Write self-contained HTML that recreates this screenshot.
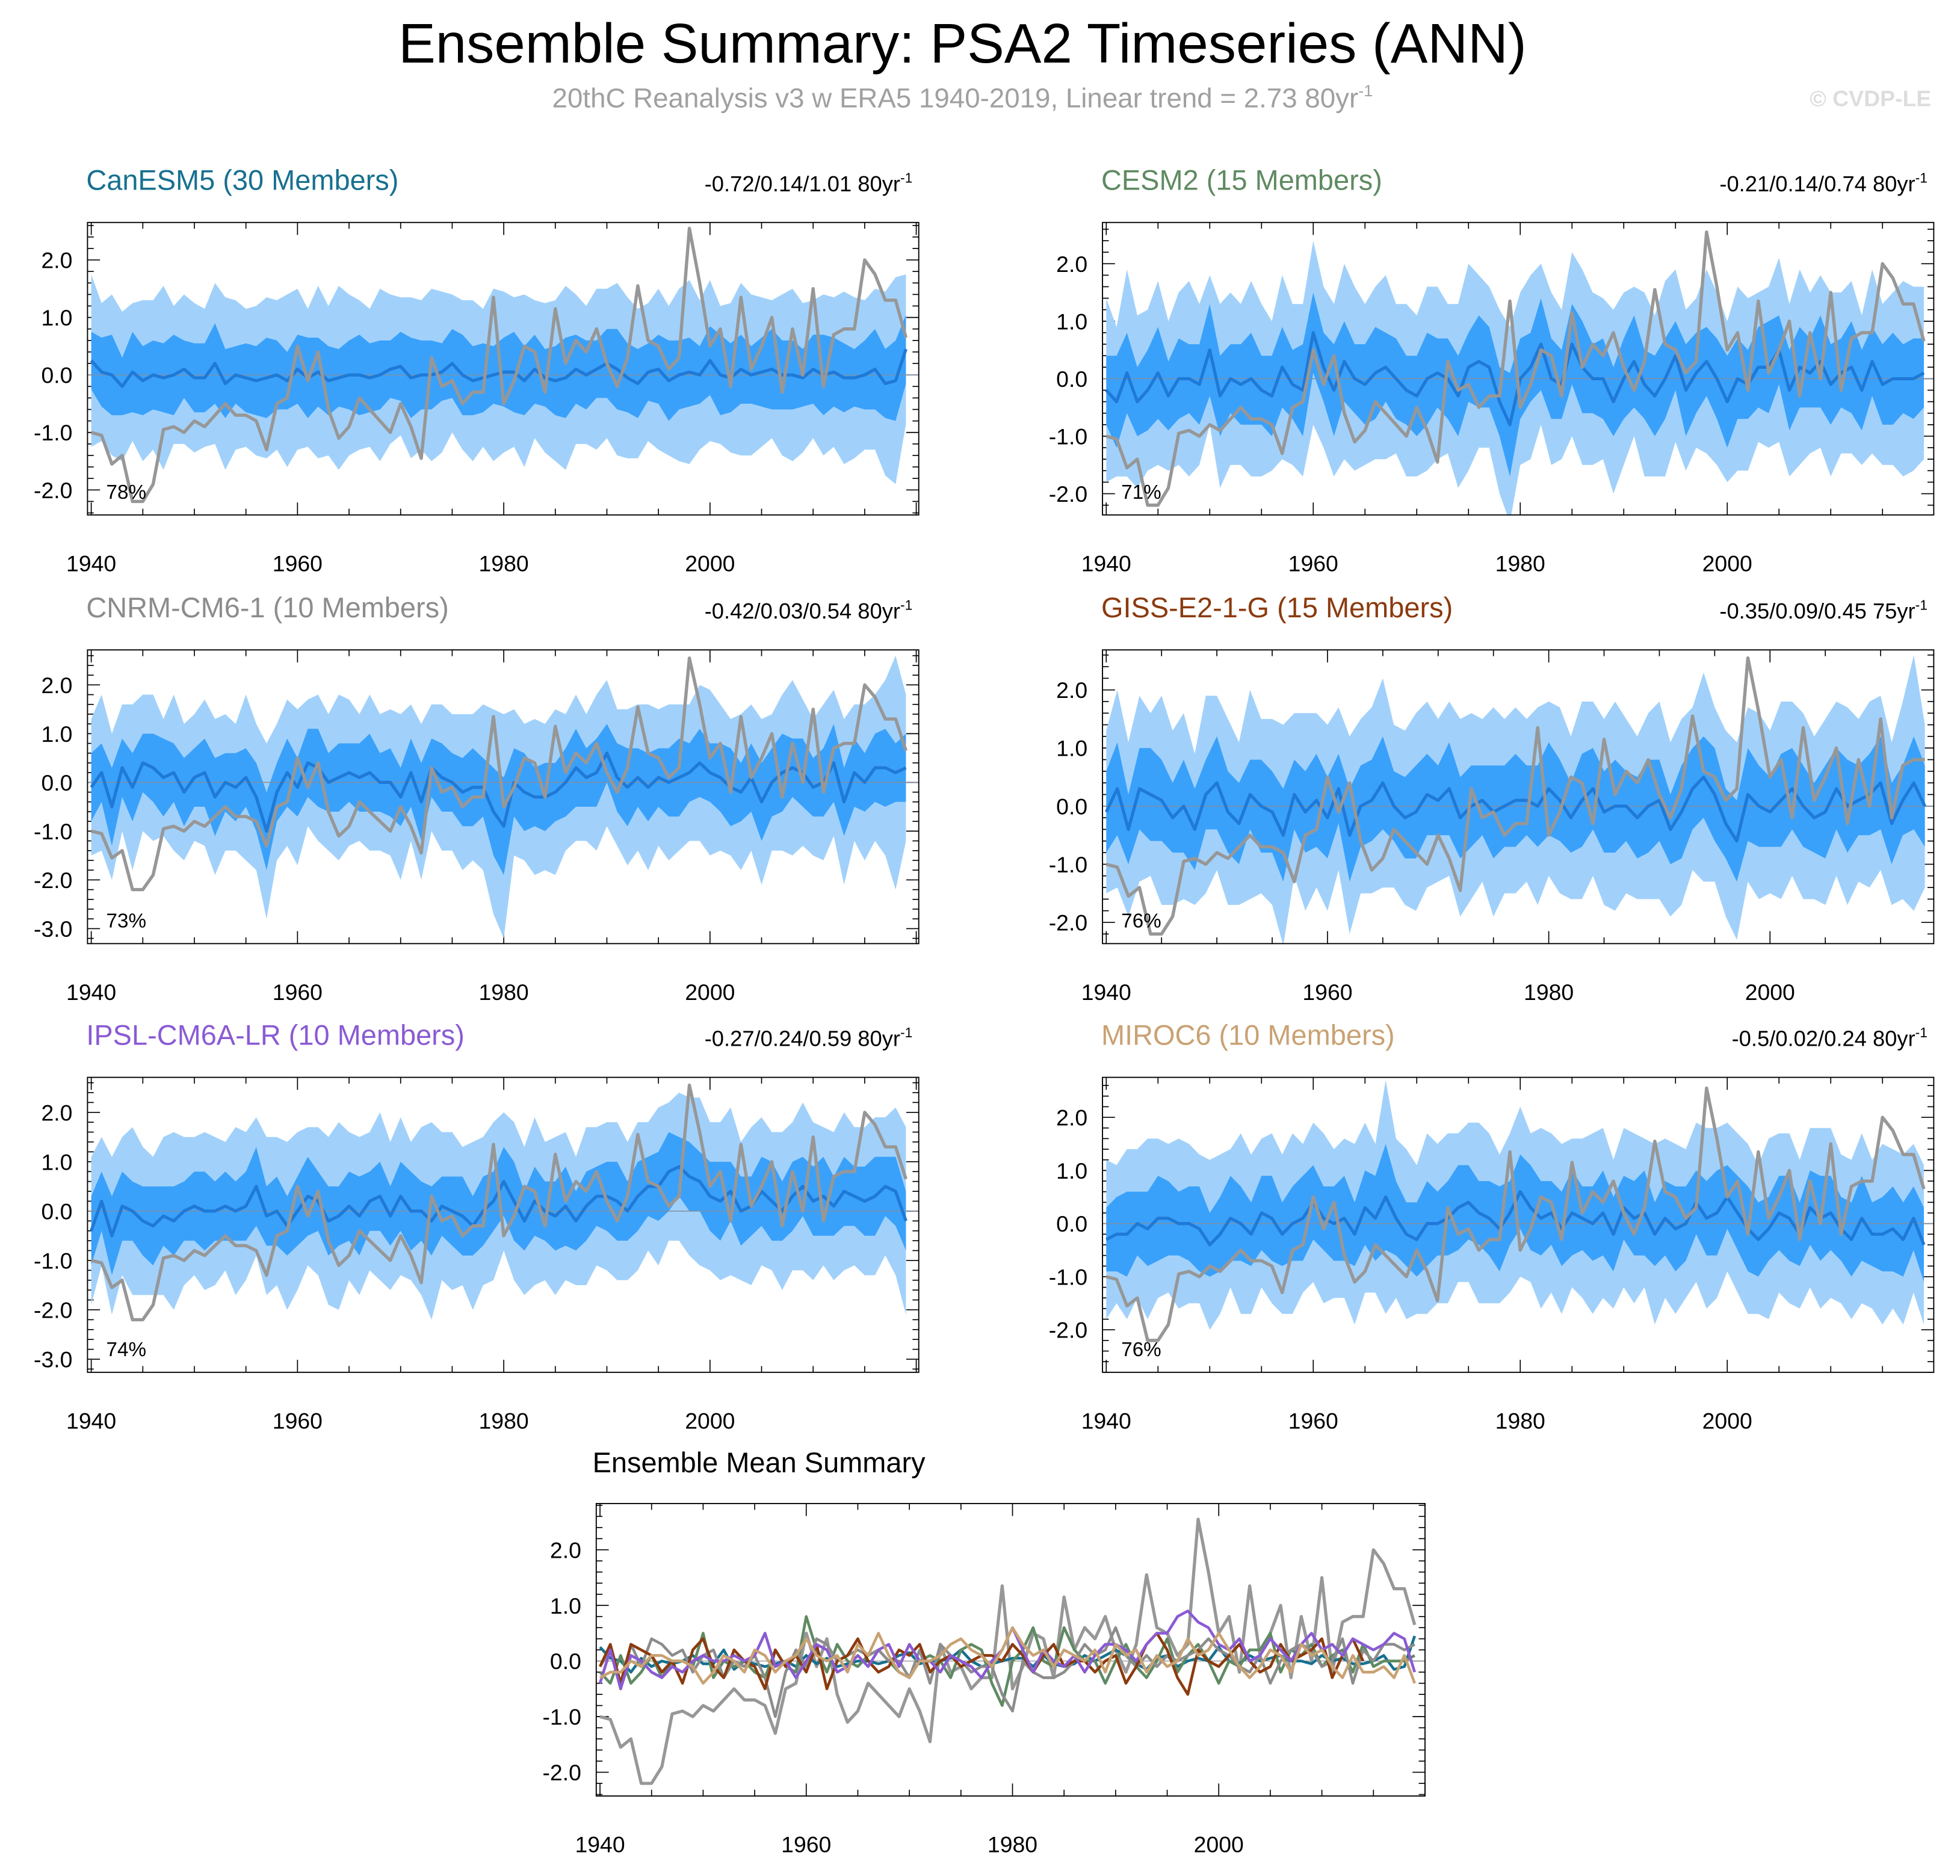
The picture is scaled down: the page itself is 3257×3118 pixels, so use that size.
<!DOCTYPE html>
<html><head><meta charset="utf-8"><style>
html,body{margin:0;padding:0;background:#fff;}
svg text{font-family:"Liberation Sans",sans-serif;}
</style></head><body>
<svg id="fig" xmlns="http://www.w3.org/2000/svg" width="3257" height="3113" viewBox="0 0 1568 1498.6" preserveAspectRatio="none">
<rect x="0" y="0" width="1568" height="1500" fill="#fff"/>
<text x="770" y="50" font-size="44.5" text-anchor="middle" fill="#000">Ensemble Summary: PSA2 Timeseries (ANN)</text>
<text x="770" y="86" font-size="22" text-anchor="middle" fill="#a0a0a0">20thC Reanalysis v3 w ERA5 1940-2019, Linear trend = 2.73 80yr<tspan font-size="13" dy="-9">-1</tspan></text>
<text x="1545" y="85" font-size="18" font-weight="bold" text-anchor="end" fill="#dddddd">© CVDP-LE</text>
</svg>
<script>
const years = Array.from({length:80},(_, i)=>1940+i);
const obs = [-1.0,-1.05,-1.55,-1.4,-2.2,-2.2,-1.9,-0.95,-0.9,-1.0,
-0.8,-0.9,-0.7,-0.5,-0.7,-0.7,-0.8,-1.3,-0.5,-0.4,
0.5,-0.1,0.4,-0.6,-1.1,-0.9,-0.4,-0.6,-0.8,-1.0,
-0.5,-0.9,-1.45,0.3,-0.2,-0.1,-0.5,-0.3,-0.3,1.35,
-0.5,-0.1,0.5,0.4,-0.3,1.15,0.2,0.6,0.4,0.8,
0.2,-0.2,0.3,1.55,0.6,0.5,0.1,0.3,2.55,1.6,
0.5,0.8,-0.2,1.35,0.1,0.5,1.0,-0.3,0.8,0.0,
1.5,-0.2,0.7,0.8,0.8,2.0,1.75,1.3,1.3,0.65];
const meanCanESM5 = [0.25,0.05,0.00,-0.20,0.05,-0.10,0.00,-0.05,0.00,0.10,
-0.05,-0.05,0.20,-0.15,0.00,-0.05,-0.10,-0.05,0.00,-0.10,
0.10,-0.05,0.05,-0.10,-0.05,0.00,0.00,-0.05,0.00,0.10,
0.15,-0.05,0.00,0.00,0.05,0.20,0.00,-0.10,-0.05,0.00,
0.05,0.05,-0.10,0.10,-0.05,-0.10,-0.05,0.10,0.00,0.10,
0.20,0.10,-0.05,-0.15,0.05,0.10,-0.10,0.00,0.05,0.00,
0.25,0.00,-0.05,0.10,0.00,0.05,0.10,0.00,0.00,-0.05,
0.10,0.00,0.05,-0.05,-0.05,0.00,0.10,-0.15,-0.10,0.45];
const innerCanESM5 = [0.5,0.6,0.7,0.5,0.7,0.6,0.6,0.6,0.7,0.5,
0.6,0.6,0.7,0.6,0.5,0.6,0.6,0.7,0.6,0.5,
0.6,0.7,0.6,0.6,0.5,0.6,0.7,0.6,0.6,0.5,
0.6,0.7,0.6,0.6,0.5,0.6,0.7,0.6,0.6,0.5,
0.6,0.7,0.6,0.6,0.5,0.6,0.7,0.6,0.6,0.5,
0.6,0.7,0.6,0.6,0.5,0.6,0.7,0.6,0.6,0.5,
0.6,0.7,0.6,0.6,0.5,0.6,0.7,0.6,0.6,0.5,
0.6,0.7,0.6,0.6,0.5,0.6,0.7,0.6,0.7,0.6];
const outerCanESM5 = [1.5,1.2,1.4,1.3,1.2,1.4,1.3,1.6,1.2,1.3,
1.3,1.2,1.4,1.5,1.3,1.2,1.3,1.4,1.3,1.5,
1.4,1.2,1.5,1.3,1.6,1.4,1.3,1.2,1.5,1.3,
1.2,1.4,1.3,1.5,1.4,1.2,1.3,1.4,1.2,1.5,
1.4,1.3,1.5,1.2,1.3,1.4,1.6,1.3,1.2,1.4,
1.3,1.5,1.4,1.3,1.2,1.4,1.3,1.5,1.6,1.3,
1.4,1.2,1.3,1.5,1.4,1.3,1.2,1.4,1.5,1.3,
1.2,1.4,1.3,1.5,1.4,1.3,1.4,1.6,1.8,1.3];
const meanCESM2 = [-0.2,-0.4,0.1,-0.4,-0.2,0.1,-0.3,0.0,0.0,-0.1,
0.5,-0.3,0.0,-0.1,0.0,-0.2,-0.3,0.2,-0.1,-0.2,
0.8,0.2,-0.2,0.3,0.0,-0.1,0.1,0.2,0.0,-0.2,
-0.3,0.0,0.1,0.0,-0.3,0.2,0.3,0.2,-0.4,-0.8,
0.0,0.2,0.6,0.0,-0.1,0.6,0.2,0.0,0.0,-0.4,
0.0,0.3,-0.1,-0.3,0.0,0.4,-0.2,0.1,0.3,0.0,
-0.4,0.0,-0.1,0.2,0.2,0.5,-0.2,0.2,0.1,0.3,
-0.1,0.1,0.2,-0.2,0.3,-0.1,0.0,0.0,0.0,0.1];
const innerCESM2 = [0.6,0.8,0.7,0.6,0.7,0.8,0.6,0.7,0.6,0.7,
0.8,0.7,0.6,0.7,0.8,0.6,0.7,0.7,0.6,0.8,
0.7,0.6,0.8,0.7,0.6,0.7,0.8,0.6,0.7,0.6,
0.7,0.8,0.6,0.7,0.7,0.6,0.8,0.7,0.6,0.9,
0.7,0.6,0.8,0.7,0.6,0.7,0.8,0.6,0.7,0.6,
0.7,0.8,0.6,0.7,0.7,0.6,0.8,0.7,0.6,0.7,
0.8,0.7,0.6,0.7,0.8,0.6,0.7,0.7,0.6,0.8,
0.7,0.6,0.8,0.7,0.6,0.7,0.8,0.6,0.7,0.6];
const outerCESM2 = [1.6,1.3,1.8,1.5,1.4,1.6,1.3,1.5,1.7,1.4,
1.3,1.6,1.5,1.4,1.7,1.5,1.3,1.6,1.4,1.5,
1.6,1.4,1.5,1.7,1.6,1.4,1.5,1.6,1.3,1.5,
1.4,1.6,1.5,1.3,1.6,1.8,1.5,1.4,1.6,1.7,
1.5,1.6,1.4,1.5,1.3,1.6,1.7,1.5,1.4,1.6,
1.5,1.3,1.6,1.4,1.7,1.5,1.4,1.3,1.6,1.5,
1.4,1.6,1.5,1.3,1.4,1.6,1.5,1.7,1.4,1.5,
1.6,1.4,1.5,1.3,1.6,1.4,1.5,1.7,1.6,1.5];
const meanCNRM = [-0.1,0.2,-0.5,0.3,-0.1,0.4,0.3,0.1,0.2,-0.2,
0.1,0.2,-0.3,0.0,-0.1,0.1,-0.3,-1.0,-0.2,0.2,
-0.1,0.4,0.3,0.0,0.1,0.2,0.1,0.2,0.0,0.0,
-0.3,0.2,-0.4,0.3,0.1,0.0,-0.2,-0.1,-0.1,-0.6,
-0.9,0.0,-0.2,-0.3,-0.3,-0.2,0.0,0.3,0.1,0.2,
0.6,0.1,-0.1,0.1,-0.1,0.1,0.0,0.1,0.2,0.4,
0.2,0.1,-0.1,-0.2,0.1,-0.4,0.0,0.2,0.3,0.2,
-0.1,0.0,0.4,-0.4,0.2,0.0,0.3,0.3,0.2,0.3];
const innerCNRM = [0.7,0.6,0.8,0.6,0.7,0.6,0.7,0.8,0.6,0.7,
0.6,0.7,0.8,0.6,0.7,0.6,0.7,0.8,0.6,0.7,
0.6,0.7,0.8,0.6,0.7,0.6,0.7,0.8,0.6,0.7,
0.6,0.7,0.8,0.6,0.7,0.6,0.7,0.8,0.6,0.9,
1.0,0.7,0.8,0.6,0.7,0.6,0.7,0.8,0.6,0.7,
0.6,0.7,0.8,0.6,0.7,0.6,0.7,0.8,0.6,0.7,
0.6,0.7,0.8,0.6,0.7,0.8,0.7,0.8,0.6,0.7,
0.6,0.7,0.8,0.7,0.7,0.6,0.7,0.8,0.6,0.7];
const outerCNRM = [1.4,1.6,1.5,1.3,1.7,1.4,1.5,1.2,1.6,1.4,
1.3,1.5,1.6,1.4,1.3,1.7,1.5,1.8,1.4,1.5,
1.6,1.3,1.5,1.4,1.7,1.5,1.3,1.6,1.4,1.5,
1.7,1.4,1.6,1.3,1.5,1.4,1.6,1.5,1.7,2.1,
2.3,1.5,1.4,1.6,1.5,1.7,1.4,1.5,1.3,1.6,
1.5,1.4,1.6,1.5,1.7,1.4,1.6,1.5,1.4,1.6,
1.7,1.5,1.4,1.6,1.5,1.7,1.4,1.6,1.8,1.5,
1.4,1.6,1.5,1.7,1.4,1.6,1.5,1.8,2.4,1.5];
const meanGISS = [-0.1,0.3,-0.4,0.3,0.2,0.1,-0.2,0.0,-0.4,0.2,
0.4,-0.1,-0.3,0.2,0.0,-0.1,-0.5,0.2,-0.1,0.1,
-0.2,0.3,-0.5,0.0,0.1,0.4,0.0,-0.2,-0.1,0.2,
0.1,0.3,-0.2,0.0,0.1,-0.1,0.0,0.1,0.1,0.0,
0.3,0.1,-0.2,0.1,0.3,-0.1,0.0,0.0,-0.2,0.0,
0.1,-0.4,-0.1,0.3,0.5,0.2,-0.3,-0.6,0.2,0.0,
-0.1,0.1,0.3,0.0,-0.2,-0.1,0.3,0.0,0.1,0.2,
0.4,-0.3,0.1,0.4,0.0];
const innerGISS = [0.7,0.8,0.6,0.7,0.8,0.7,0.6,0.8,0.7,0.6,
0.8,0.7,0.7,0.6,0.8,0.7,0.8,0.6,0.7,0.8,
0.7,0.6,0.8,0.7,0.7,0.8,0.6,0.7,0.8,0.7,
0.6,0.8,0.7,0.7,0.6,0.8,0.7,0.8,0.6,0.7,
0.8,0.7,0.6,0.8,0.7,0.7,0.8,0.6,0.7,0.8,
0.7,0.6,0.8,0.7,0.7,0.8,0.6,0.7,0.8,0.7,
0.6,0.8,0.7,0.7,0.6,0.8,0.7,0.8,0.6,0.7,
0.8,0.7,0.6,0.8,0.7];
const outerGISS = [1.4,1.7,1.5,1.6,1.4,1.8,1.5,1.6,1.3,1.7,
1.5,1.6,1.4,1.8,1.5,1.6,1.9,1.4,1.7,1.5,
1.6,1.4,1.7,1.5,1.6,1.8,1.4,1.5,1.7,1.6,
1.4,1.5,1.7,1.6,1.4,1.8,1.5,1.6,1.4,1.7,
1.5,1.6,1.4,1.7,1.5,1.6,1.8,1.5,1.4,1.6,
1.7,1.5,1.6,1.4,1.8,1.5,1.6,1.7,1.5,1.6,
1.4,1.7,1.5,1.6,1.4,1.6,1.5,1.7,1.4,1.6,
1.5,1.4,1.7,2.2,1.4];
const meanIPSL = [-0.4,0.2,-0.5,0.1,0.0,-0.2,-0.3,-0.1,-0.2,0.0,
0.1,0.0,0.0,0.1,0.0,0.1,0.5,-0.1,0.0,-0.3,
0.0,0.3,0.2,-0.2,-0.1,0.1,-0.1,0.2,0.3,-0.1,
0.3,0.0,0.0,-0.2,0.1,0.0,-0.1,-0.3,0.0,0.2,
0.6,0.2,-0.2,0.2,0.0,-0.1,0.1,-0.2,0.1,0.3,
0.3,0.2,0.0,0.3,0.5,0.5,0.8,0.9,0.7,0.6,
0.3,0.2,0.4,0.0,0.1,0.4,0.2,0.0,0.3,0.5,
0.2,0.3,0.1,0.4,0.3,0.2,0.3,0.5,0.4,-0.2];
const innerIPSL = [0.7,0.6,0.8,0.7,0.6,0.7,0.8,0.6,0.7,0.6,
0.7,0.8,0.6,0.7,0.6,0.7,0.8,0.6,0.7,0.6,
0.7,0.8,0.6,0.7,0.6,0.7,0.8,0.6,0.7,0.6,
0.7,0.8,0.6,0.7,0.6,0.7,0.8,0.6,0.7,0.6,
0.7,0.8,0.6,0.7,0.6,0.7,0.8,0.6,0.7,0.6,
0.7,0.8,0.6,0.7,0.6,0.7,0.8,0.6,0.7,0.6,
0.7,0.8,0.6,0.7,0.6,0.7,0.8,0.6,0.7,0.6,
0.7,0.8,0.6,0.7,0.6,0.7,0.8,0.6,0.7,0.6];
const outerIPSL = [1.5,1.3,1.6,1.4,1.7,1.5,1.4,1.6,1.8,1.5,
1.4,1.6,1.5,1.3,1.7,1.5,1.4,1.6,1.5,1.7,
1.6,1.4,1.5,1.7,1.9,1.5,1.6,1.4,1.7,1.5,
1.6,1.4,1.7,2.0,1.5,1.6,1.4,1.7,1.5,1.6,
1.4,1.6,1.5,1.7,1.4,1.6,1.5,1.3,1.6,1.4,
1.5,1.6,1.4,1.5,1.3,1.6,1.4,1.5,1.6,1.7,
1.5,1.6,1.7,1.4,1.6,1.5,1.4,1.6,1.5,1.7,
1.6,1.4,1.5,1.6,1.4,1.5,1.6,1.4,1.7,1.9];
const meanMIROC = [-0.3,-0.2,-0.2,0.0,-0.1,0.1,0.1,0.0,0.0,-0.1,
-0.4,-0.2,0.1,0.0,-0.2,0.2,0.1,-0.2,0.0,0.1,
0.4,0.1,0.0,0.1,-0.2,0.3,0.1,0.5,0.1,-0.2,
-0.3,0.0,0.0,0.1,0.3,0.4,0.2,0.1,-0.1,0.2,
0.6,0.3,0.1,0.2,-0.1,0.2,0.1,0.0,0.2,-0.2,
0.3,0.1,0.2,-0.2,0.1,-0.1,0.0,0.4,0.1,0.2,
0.5,0.2,-0.1,-0.3,-0.1,0.2,0.1,-0.2,0.3,0.1,
0.2,-0.1,-0.3,0.1,-0.2,-0.2,-0.1,-0.3,0.1,-0.4];
const innerMIROC = [0.6,0.7,0.8,0.6,0.7,0.8,0.7,0.6,0.7,0.8,
0.6,0.7,0.8,0.7,0.6,0.7,0.8,0.6,0.7,0.8,
0.7,0.6,0.7,0.8,0.6,0.7,0.8,1.0,0.7,0.6,
0.7,0.8,0.6,0.7,0.8,0.7,0.6,0.7,0.8,0.6,
0.7,0.8,0.7,0.6,0.7,0.8,0.6,0.7,0.8,0.7,
0.6,0.7,0.8,0.6,0.7,0.8,0.7,0.6,0.7,0.8,
0.6,0.7,0.8,0.7,0.6,0.7,0.8,0.6,0.7,0.8,
0.7,0.6,0.7,0.8,0.6,0.7,0.8,0.7,0.6,0.7];
const outerMIROC = [1.5,1.3,1.6,1.4,1.7,1.5,1.4,1.6,1.5,1.4,
1.6,1.5,1.3,1.7,1.5,1.4,1.6,1.5,1.7,1.4,
1.5,1.6,1.4,1.5,1.7,1.6,1.4,2.2,1.5,1.6,
1.4,1.7,1.5,1.6,1.4,1.5,1.7,1.6,1.4,1.5,
1.6,1.4,1.7,1.5,1.6,1.4,1.5,1.7,1.6,1.4,
1.5,1.6,1.4,1.7,1.5,1.6,1.4,1.5,1.7,1.6,
1.4,1.5,1.6,1.4,1.7,1.5,1.6,1.4,1.5,1.7,
1.6,1.4,1.5,1.6,1.4,1.7,1.5,1.6,1.4,1.5];
const yTicks5 = [2,1,0,-1,-2];
const yTicks6 = [2,1,0,-1,-2,-3];
const xTicks = [1940,1960,1980,2000];

const NS='http://www.w3.org/2000/svg';
const svg=document.getElementById('fig');
function mk(tag,attrs,parent){const e=document.createElementNS(NS,tag);for(const k in attrs)e.setAttribute(k,attrs[k]);(parent||svg).appendChild(e);return e;}

const panels=[
 {key:'canesm5',title:'CanESM5 (30 Members)',color:'#17708f',stats:'-0.72/0.14/1.01 80yr',bx0:70,bx1:735,by0:178,by1:412,x40:73,ppy:8.25,zero:300,ppu:46,yt:yTicks5,pct:'78%',mean:meanCanESM5,inner:innerCanESM5,outer:outerCanESM5},
 {key:'cesm2',title:'CESM2 (15 Members)',color:'#5f8a62',stats:'-0.21/0.14/0.74 80yr',bx0:882,bx1:1547,by0:178,by1:412,x40:885,ppy:8.28,zero:303,ppu:46,yt:yTicks5,pct:'71%',mean:meanCESM2,inner:innerCESM2,outer:outerCESM2},
 {key:'cnrm',title:'CNRM-CM6-1 (10 Members)',color:'#8c8c8c',stats:'-0.42/0.03/0.54 80yr',bx0:70,bx1:735,by0:520,by1:755,x40:73,ppy:8.25,zero:626,ppu:39,yt:yTicks6,pct:'73%',mean:meanCNRM,inner:innerCNRM,outer:outerCNRM},
 {key:'giss',title:'GISS-E2-1-G (15 Members)',color:'#8b3a0e',stats:'-0.35/0.09/0.45 75yr',bx0:882,bx1:1547,by0:520,by1:755,x40:885,ppy:8.85,zero:645,ppu:46.5,yt:yTicks5,pct:'76%',mean:meanGISS,inner:innerGISS,outer:outerGISS},
 {key:'ipsl',title:'IPSL-CM6A-LR (10 Members)',color:'#8a5ad4',stats:'-0.27/0.24/0.59 80yr',bx0:70,bx1:735,by0:862,by1:1098,x40:73,ppy:8.25,zero:969,ppu:39.5,yt:yTicks6,pct:'74%',mean:meanIPSL,inner:innerIPSL,outer:outerIPSL},
 {key:'miroc6',title:'MIROC6 (10 Members)',color:'#c9a273',stats:'-0.5/0.02/0.24 80yr',bx0:882,bx1:1547,by0:862,by1:1098,x40:885,ppy:8.28,zero:979,ppu:42.5,yt:yTicks5,pct:'76%',mean:meanMIROC,inner:innerMIROC,outer:outerMIROC}
];

function axes(p,g){
 const X=y=>p.x40+(y-1940)*p.ppy, Y=v=>p.zero-v*p.ppu;
 const vTop=(p.zero-p.by0)/p.ppu, vBot=(p.zero-p.by1)/p.ppu;
 for(let v=Math.ceil(vBot*5)/5; v<=vTop+1e-6; v+=0.2){
  const yy=Y(v);const major=Math.abs(v-Math.round(v))<1e-6;const L=major?10:5;
  mk('line',{x1:p.bx0,x2:p.bx0+L,y1:yy,y2:yy,stroke:'#000','stroke-width':0.8},g);
  mk('line',{x1:p.bx1,x2:p.bx1-L,y1:yy,y2:yy,stroke:'#000','stroke-width':0.8},g);
 }
 for(let yr=1940; X(yr)<=p.bx1; yr+=5){
  const xx=X(yr);const major=(yr%20===0);const L=major?10:5;
  mk('line',{x1:xx,x2:xx,y1:p.by1,y2:p.by1-L,stroke:'#000','stroke-width':0.8},g);
  mk('line',{x1:xx,x2:xx,y1:p.by0,y2:p.by0+L,stroke:'#000','stroke-width':0.8},g);
 }
 p.yt.forEach(v=>{const t=mk('text',{x:p.bx0-12,y:Y(v)+6.5,'font-size':18,'text-anchor':'end',fill:'#000'},g);t.textContent=v.toFixed(1);
  
  });
 xTicks.forEach(yr=>{const t=mk('text',{x:X(yr),y:p.by1+45,'font-size':18,'text-anchor':'middle',fill:'#000'},g);t.textContent=yr;
  
  });
 return {X,Y};
}
function line(vals,X,Y,stroke,w,g,name){
 const pts=vals.map((v,i)=>X(1940+i).toFixed(2)+','+Y(v).toFixed(2)).join(' ');
 const l=mk('polyline',{points:pts,fill:'none',stroke:stroke,'stroke-width':w,'stroke-linejoin':'round'},g);
 
 
 return l;
}
function band(mean,w,X,Y,fill,g,name){
 const up=mean.map((m,i)=>X(1940+i).toFixed(2)+','+Y(m+w[i]).toFixed(2));
 const dn=mean.map((m,i)=>X(1940+i).toFixed(2)+','+Y(m-w[i]).toFixed(2)).reverse();
 const p=mk('polygon',{points:up.concat(dn).join(' '),fill:fill},g);
 
 
}

panels.forEach((p,idx)=>{
 const g=mk('g',{});
 
 
 const clip=mk('clipPath',{id:'c'+idx},g);mk('rect',{x:p.bx0,y:p.by0,width:p.bx1-p.bx0,height:p.by1-p.by0},clip);
 const t=mk('text',{x:p.bx0-1,y:p.by0-26,'font-size':22.6,fill:p.color},g);t.textContent=p.title;
 
 
 const s=mk('text',{x:p.bx1-5,y:p.by0-25,'font-size':17.5,'text-anchor':'end',fill:'#000'},g);s.textContent=p.stats;
 const sup=mk('tspan',{'font-size':11,dy:-7},s);sup.textContent='-1';
 
 
 const {X,Y}=axes(p,g);
 const cg=mk('g',{'clip-path':'url(#c'+idx+')'},g);
 band(p.mean,p.outer,X,Y,'#a1d1fb',cg,'outer-range-band');
 band(p.mean,p.inner,X,Y,'#3aa1fb',cg,'inner-range-band');
 mk('line',{x1:p.bx0,x2:p.bx1,y1:Y(0),y2:Y(0),stroke:'#7f8fa0','stroke-width':0.7},cg);
 line(p.mean,X,Y,'#1f79d6',2.5,cg,'ensemble-mean-line');
 line(obs.slice(0,p.mean.length),X,Y,'#979797',2.6,cg,'observed-line');
 const pc=mk('text',{x:p.bx0+15,y:p.by1-13,'font-size':16,fill:'#000'},g);pc.textContent=p.pct;
 
 
 const r=mk('rect',{x:p.bx0,y:p.by0,width:p.bx1-p.bx0,height:p.by1-p.by0,fill:'none',stroke:'#000','stroke-width':0.9},g);
 
 
});

(function(){
 const p={bx0:477,bx1:1140,by0:1203,by1:1437,x40:480,ppy:8.25,zero:1329,ppu:44.5,yt:yTicks5};
 const g=mk('g',{});
 
 
 const clip=mk('clipPath',{id:'cs'},g);mk('rect',{x:p.bx0,y:p.by0,width:p.bx1-p.bx0,height:p.by1-p.by0},clip);
 const t=mk('text',{x:p.bx0-3,y:p.by0-25,'font-size':22.6,fill:'#000'},g);t.textContent='Ensemble Mean Summary';
 
 
 const {X,Y}=axes(p,g);
 const cg=mk('g',{'clip-path':'url(#cs)'},g);
 mk('line',{x1:p.bx0,x2:p.bx1,y1:Y(0),y2:Y(0),stroke:'#999','stroke-width':0.7},cg);
 line(obs,X,Y,'#979797',2.5,cg,'observed-line');
 panels.forEach(q=>line(q.mean,X,Y,q.color,2.2,cg,'mean-line-'+q.key));
 const r=mk('rect',{x:p.bx0,y:p.by0,width:p.bx1-p.bx0,height:p.by1-p.by0,fill:'none',stroke:'#000','stroke-width':0.9},g);
 
 
})();
</script>
</body></html>
